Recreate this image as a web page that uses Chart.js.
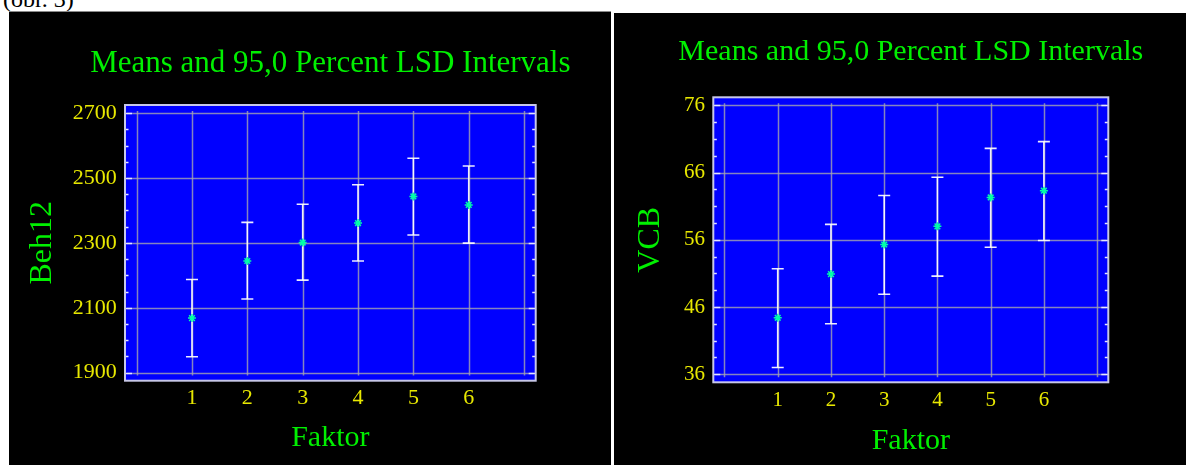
<!DOCTYPE html>
<html>
<head>
<meta charset="utf-8">
<script src="https://cdn.jsdelivr.net/npm/chart.js@4.4.1/dist/chart.umd.min.js"></script>
<style>
  html, body { margin: 0; padding: 0; background: #fff; }
  body { width: 1186px; height: 465px; position: relative; overflow: hidden; font-family: 'Liberation Serif', 'Times New Roman', serif; }
  #caption { position: absolute; left: 3px; top: -13px; font-size: 24px; line-height: 24px; color: #000; }
  .panel { position: absolute; background: #000; }
  #panelLeft { left: 9px; top: 11px; width: 602px; height: 454px; border-top: 1px solid #8a8a8a; box-sizing: border-box; }
  #panelRight { left: 614px; top: 13px; width: 572px; height: 452px; }
  canvas { display: block; }
</style>
</head>
<body>
<div id="caption">(obr. 3)</div>
<div class="panel" id="panelLeft"><canvas id="chartBeh12" width="602" height="453"></canvas></div>
<div class="panel" id="panelRight"><canvas id="chartVCB" width="572" height="452"></canvas></div>

<script>
// dados
const categorias = [1, 2, 3, 4, 5, 6];
const xTicks = [1, 2, 3, 4, 5, 6];
const gridX = [0, 1, 2, 3, 4, 5, 6, 7];

const beh12Medias = [2068, 2244, 2301, 2361, 2443, 2417];
const beh12Inferior = [1949, 2127, 2185, 2244, 2324, 2299];
const beh12Superior = [2187, 2363, 2419, 2479, 2561, 2537];
const beh12Ticks = [1900, 2100, 2300, 2500, 2700];

const vcbMedias = [44.4, 50.9, 55.3, 58.0, 62.3, 63.3];
const vcbInferior = [37.0, 43.5, 47.9, 50.6, 54.9, 55.9];
const vcbSuperior = [51.7, 58.3, 62.6, 65.3, 69.6, 70.6];
const vcbTicks = [36, 46, 56, 66, 76];

const titulo = 'Means and 95,0 Percent LSD Intervals';
const fonte = "'Liberation Serif', 'Times New Roman', serif";
const verde = '#00f000';
const amarelo = '#e8e800';

// fundo azul, grade, borda e tracinhos internos
const plotDecor = {
  id: 'plotDecor',
  beforeDatasetsDraw(chart) {
    const {ctx, chartArea: a, scales: {x, y}} = chart;
    const yt = chart.options.plugins.plotDecor.ticks;
    ctx.save();
    ctx.fillStyle = '#0000ff';
    ctx.fillRect(a.left, a.top, a.width, a.height);

    ctx.strokeStyle = 'rgba(165,165,175,0.8)';
    ctx.lineWidth = 1.5;
    const yTop = y.getPixelForValue(yt[yt.length - 1]) - 2;
    const yBot = y.getPixelForValue(yt[0]) + 3;
    gridX.forEach(v => {
      const px = Math.round(x.getPixelForValue(v)) + 0.5;
      ctx.beginPath(); ctx.moveTo(px, yTop); ctx.lineTo(px, yBot); ctx.stroke();
    });
    yt.forEach(v => {
      const py = Math.round(y.getPixelForValue(v)) + 0.5;
      ctx.beginPath(); ctx.moveTo(a.left + 2, py); ctx.lineTo(a.right - 2, py); ctx.stroke();
    });

    // ticks dentro do quadro
    const passo = (yt[1] - yt[0]) / 4;
    ctx.strokeStyle = '#e4e4ff';
    ctx.lineWidth = 1.5;
    for (let v = yt[0]; v <= yt[yt.length - 1] + 1e-9; v += passo) {
      const maior = Math.abs(((v - yt[0]) / passo) % 4) < 1e-6;
      const len = maior ? 7 : 3.5;
      const py = Math.round(y.getPixelForValue(v)) + 0.5;
      ctx.beginPath(); ctx.moveTo(a.left, py); ctx.lineTo(a.left + len, py); ctx.stroke();
      ctx.beginPath(); ctx.moveTo(a.right - len, py); ctx.lineTo(a.right, py); ctx.stroke();
    }

    ctx.strokeStyle = '#c8c8e8';
    ctx.lineWidth = 2;
    ctx.strokeRect(a.left, a.top, a.width, a.height);
    ctx.restore();
  },
  // titulo centrado sobre a area do grafico, sem compressao
  afterDraw(chart) {
    const {ctx, chartArea: a} = chart;
    const o = chart.options.plugins.plotDecor;
    ctx.save();
    ctx.fillStyle = verde;
    ctx.font = o.tamTitulo + 'px ' + fonte;
    ctx.textAlign = 'center';
    ctx.textBaseline = 'middle';
    ctx.fillText(o.titulo, (a.left + a.right) / 2, o.tituloY);
    ctx.restore();
  }
};

function criarGrafico(canvasId, p) {
  const pontosMedias = categorias.map((c, i) => ({x: c, y: p.medias[i]}));
  const pontosLSD = [];
  categorias.forEach((c, i) => {
    pontosLSD.push({x: c, y: p.inferior[i]});
    pontosLSD.push({x: c, y: p.superior[i]});
    pontosLSD.push({x: c, y: null});
  });

  return new Chart(document.getElementById(canvasId), {
    type: 'scatter',
    data: {
      datasets: [{
        label: 'Medias',
        data: pontosMedias,
        pointStyle: 'star',
        pointRadius: 4,
        pointBorderColor: '#00ffa8',
        pointBackgroundColor: '#00ffa8',
        pointBorderWidth: 1.5,
        showLine: false
      }, {
        label: 'LSD',
        data: pontosLSD,
        showLine: true,
        spanGaps: false,
        borderColor: 'rgba(255,255,255,0.92)',
        borderWidth: 1.6,
        pointStyle: 'line',
        pointRadius: 6,
        pointBorderColor: 'rgba(255,255,255,0.92)',
        pointBorderWidth: 1.6
      }]
    },
    options: {
      responsive: false,
      animation: false,
      events: [],
      layout: { padding: { left: 0, right: p.padDireita, top: p.areaTopo, bottom: 0 } },
      plugins: {
        legend: { display: false },
        tooltip: { enabled: false },
        title: { display: false },
        plotDecor: { ticks: p.yTicks, titulo: titulo, tamTitulo: p.tamTitulo, tituloY: p.tituloY }
      },
      scales: {
        x: {
          type: 'linear',
          min: -0.21,
          max: 7.21,
          grid: { display: false, drawTicks: false },
          border: { display: false },
          afterBuildTicks: s => { s.ticks = xTicks.map(v => ({value: v})); },
          ticks: { color: amarelo, font: { family: fonte, size: p.tamTicks }, padding: p.xTickPad, autoSkip: false, maxRotation: 0, callback: v => String(v) },
          title: { display: true, text: 'Faktor', color: verde, font: { family: fonte, size: 30 }, padding: { top: 0, bottom: p.xTituloPad } },
          afterFit: s => { s.height = p.xAltura; }
        },
        y: {
          min: p.yMin,
          max: p.yMax,
          grid: { display: false, drawTicks: false },
          border: { display: false },
          afterBuildTicks: s => { s.ticks = p.yTicks.map(v => ({value: v})); },
          ticks: { color: amarelo, font: { family: fonte, size: p.tamTicks }, padding: 8.3, callback: v => String(v) },
          title: { display: true, text: p.yTitulo, color: verde, font: { family: fonte, size: 32 }, padding: { top: p.yTituloPad, bottom: 0 } },
          afterFit: s => { s.width = p.yLargura; }
        }
      }
    },
    plugins: [plotDecor]
  });
}

criarGrafico('chartBeh12', {
  medias: beh12Medias, inferior: beh12Inferior, superior: beh12Superior,
  yTicks: beh12Ticks, yMin: 1875, yMax: 2725, yTitulo: 'Beh12',
  padDireita: 75.3, yLargura: 116, xAltura: 84.3, areaTopo: 93,
  tamTitulo: 31, tituloY: 51.5,
  tamTicks: 22, xTickPad: 4.5, xTituloPad: 8.7, yTituloPad: 14.3
});

criarGrafico('chartVCB', {
  medias: vcbMedias, inferior: vcbInferior, superior: vcbSuperior,
  yTicks: vcbTicks, yMin: 34.8, yMax: 77.2, yTitulo: 'VCB',
  padDireita: 77.7, yLargura: 99.3, xAltura: 82.7, areaTopo: 84.3,
  tamTitulo: 30, tituloY: 39.5,
  tamTicks: 21, xTickPad: 5.8, xTituloPad: 6.3, yTituloPad: 17.3
});
</script>
</body>
</html>
